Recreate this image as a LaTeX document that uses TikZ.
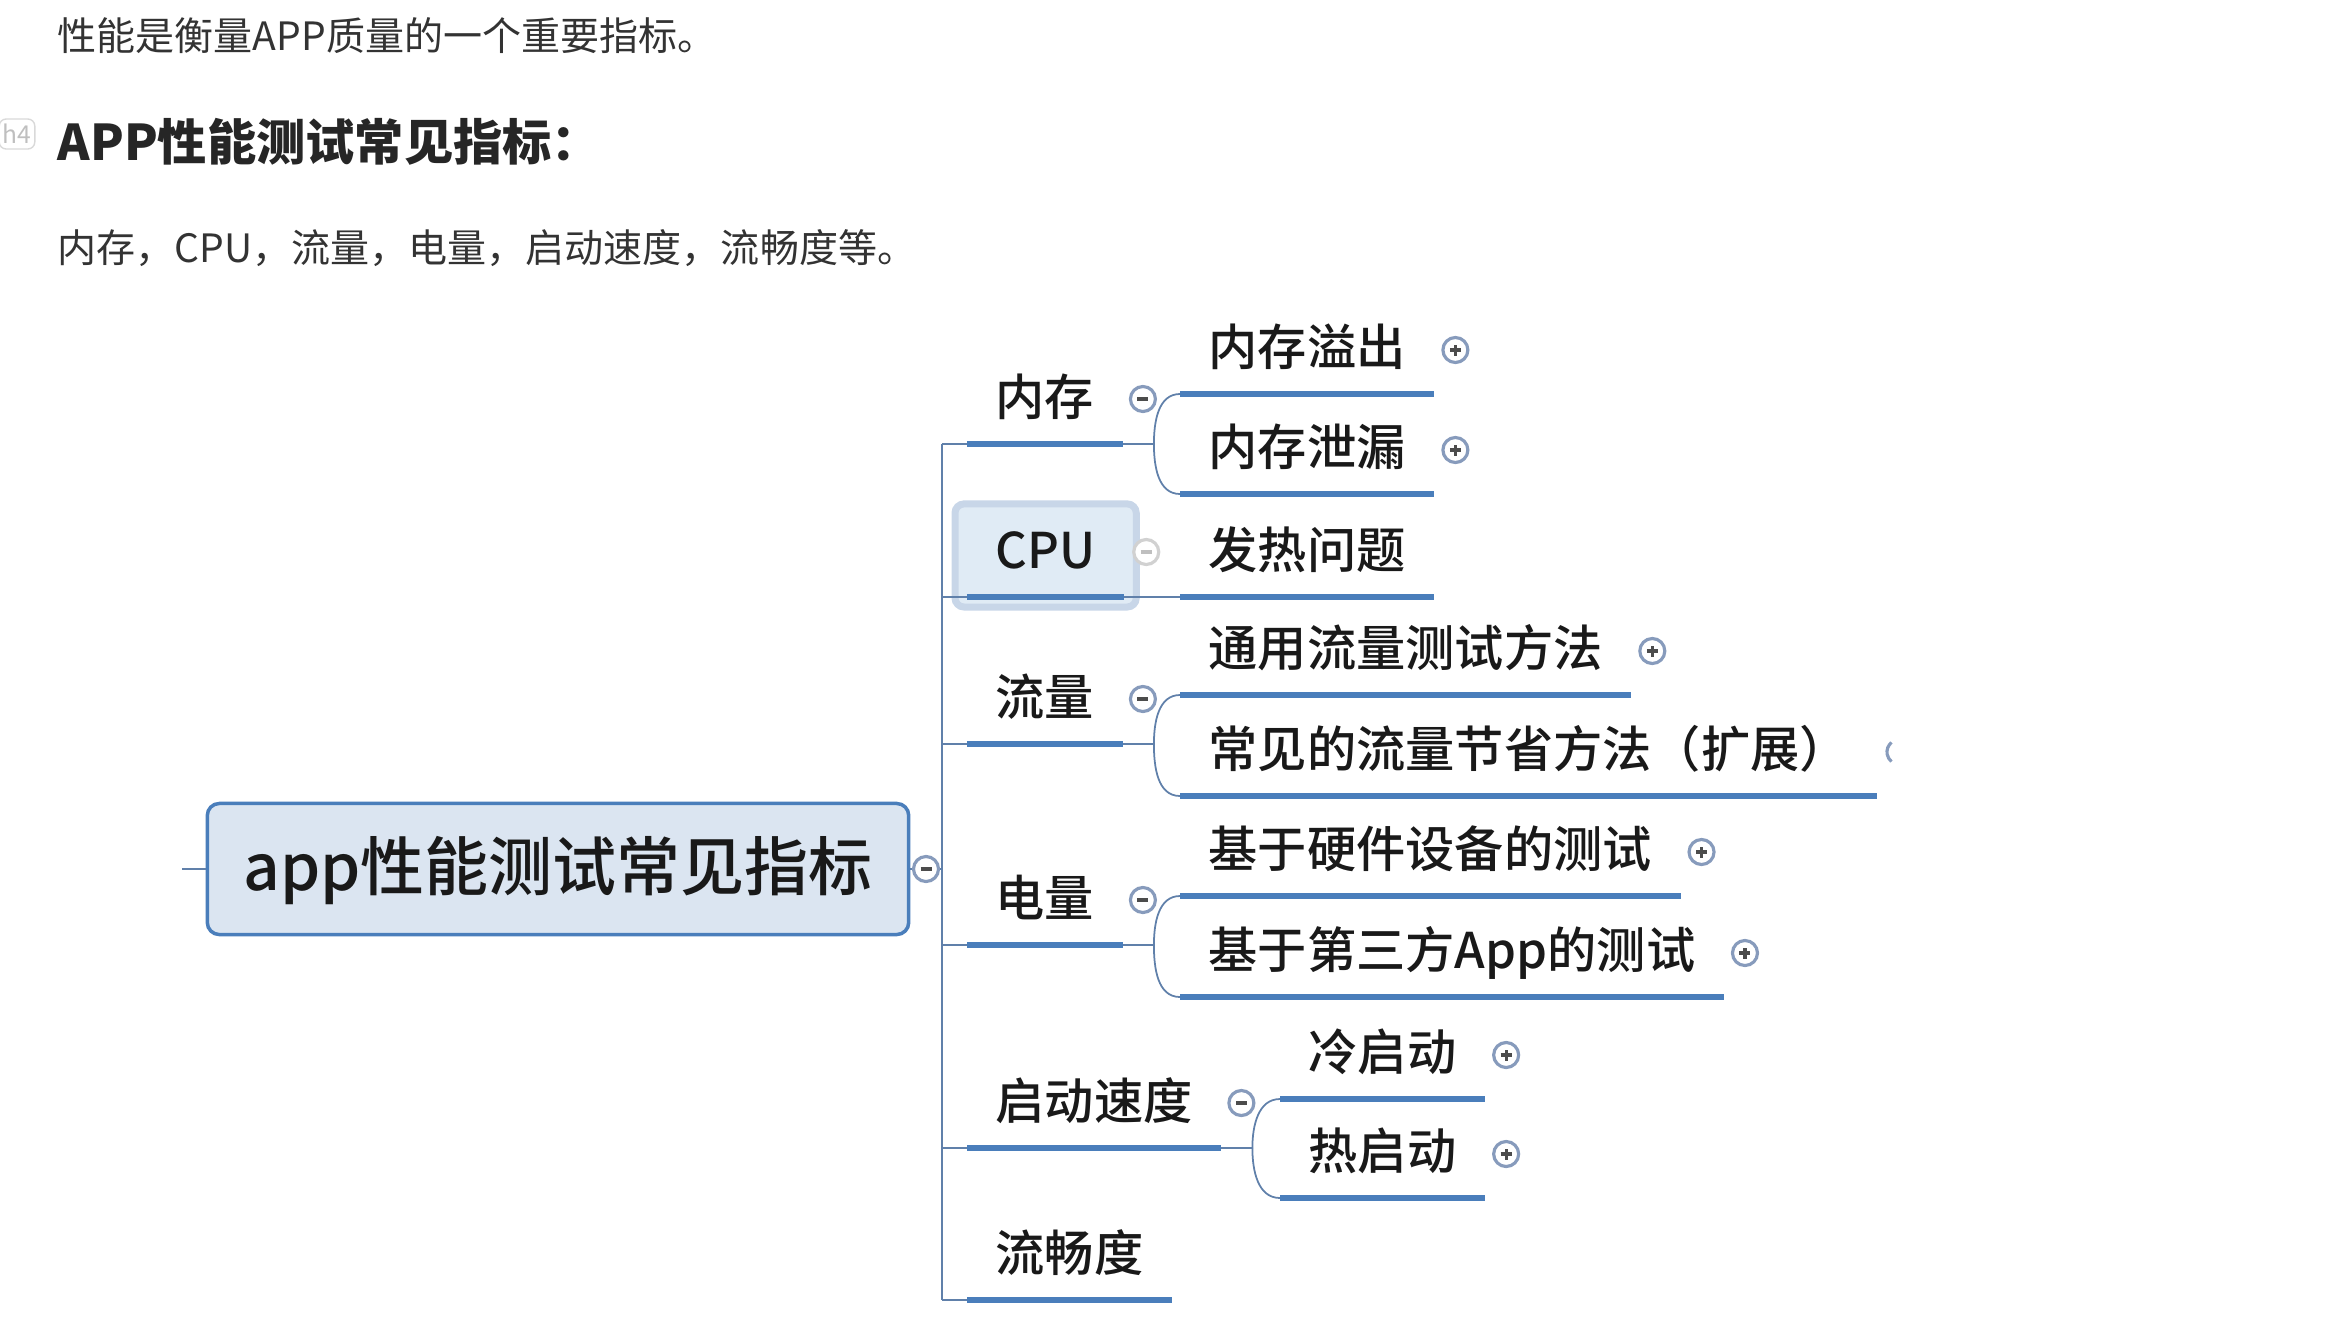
\documentclass[tikz,border=0pt]{standalone}
\usepackage{fontspec}
\setmainfont{Noto Sans CJK SC}
\newfontfamily\mapfont{Noto Sans CJK SC Medium}
\usepackage{tikz}
\usetikzlibrary{calc,fit,backgrounds}
\definecolor{MapBlue}{RGB}{74,126,187}
\definecolor{MapLine}{RGB}{96,128,170}
\definecolor{MapFill}{RGB}{219,229,241}
\definecolor{MapBtn}{RGB}{135,155,188}
\definecolor{MapText}{RGB}{25,25,25}
\definecolor{BodyText}{RGB}{51,51,51}
\definecolor{CpuFill}{RGB}{224,235,245}
\definecolor{CpuEdge}{RGB}{200,214,232}
\tikzset{
  bodytext/.style={anchor=base west, inner sep=0, text=BodyText, font=\fontsize{11.1pt}{13pt}\selectfont},
  rootbox/.style={draw=MapBlue, line width=0.035cm, rounded corners=0.12cm, fill=MapFill, minimum width=7.01cm, minimum height=1.31cm, text=MapText, font=\mapfont\fontsize{18.2pt}{20pt}\selectfont, text height=1.2em, text depth=0em},
  topic/.style={anchor=south west, inner xsep=0.28cm, inner ysep=0.28cm, text height=0.9em, text depth=0pt, text=MapText, font=\mapfont\fontsize{14pt}{16pt}\selectfont},
  maintopic/.style={topic, minimum width=1.54cm},
  cpusel/.style={draw=CpuEdge, line width=0.07cm, fill=CpuFill, rounded corners=0.09cm, inner xsep=0.12cm, inner ysep=0.07cm, yshift=-0.03cm},
  uline/.style={draw=MapBlue, line width=0.055cm},
  conn/.style={draw=MapLine, line width=0.5pt},
  btn/.style={circle, draw=MapBtn, line width=0.9pt, minimum size=0.25cm, inner sep=0, fill=white},
  btnsign/.style={black!70, line width=0.9pt},
  minusbtn/.style={btn, path picture={\draw[btnsign] ([xshift=-0.055cm]path picture bounding box.center) -- ([xshift=0.055cm]path picture bounding box.center);}},
  plusbtn/.style={btn, path picture={\draw[btnsign] ([xshift=-0.055cm]path picture bounding box.center) -- ([xshift=0.055cm]path picture bounding box.center) ([yshift=-0.055cm]path picture bounding box.center) -- ([yshift=0.055cm]path picture bounding box.center);}},
  fadedbtn/.style={draw=black!18, btnsign/.style={black!25, line width=0.9pt}}
}
\begin{document}
\begin{tikzpicture}[x=0.01cm, y=-0.01cm]
\useasboundingbox (0,0) rectangle (2334,1318);
% page text
\node[bodytext] (intro) at (57,51) {性能是衡量APP质量的一个重要指标。};
\node[draw=black!15, rounded corners=2pt, text=black!25, font=\fontsize{7pt}{7pt}\selectfont, minimum width=0.32cm, minimum height=0.3cm, inner sep=1pt] (badge) at (17,134) {h4};
\node[bodytext, text=black!85, font=\bfseries\fontsize{14pt}{16pt}\selectfont] (title) at (57,160) {APP性能测试常见指标：};
\node[bodytext] (list) at (57,262) {内存，CPU，流量，电量，启动速度，流畅度等。};
% mind map
\node[rootbox] (root) at (558,869) {app性能测试常见指标};
\coordinate (stub) at (182,869);
\node[minusbtn] (rootbtn) at (926,869) {};
\coordinate (trunk) at (942,869);
\node[maintopic] (mem) at (967,444) {内存};
\node[maintopic] (cpu) at (967,597) {CPU};
\node[maintopic] (flow) at (967,744) {流量};
\node[maintopic] (power) at (967,945) {电量};
\node[maintopic] (launch) at (967,1148) {启动速度};
\node[maintopic] (smooth) at (967,1300) {流畅度};
\begin{scope}[on background layer]
\node[cpusel, fit=(cpu)] (cpubox) {};
\end{scope}
\node[topic] (oom) at (1180,394) {内存溢出};
\node[topic] (leak) at (1180,494) {内存泄漏};
\node[topic] (heat) at (1180,597) {发热问题};
\node[topic] (common) at (1180,695) {通用流量测试方法};
\node[topic] (save) at (1180,796) {常见的流量节省方法（扩展）};
\node[topic] (hw) at (1180,896) {基于硬件设备的测试};
\node[topic] (third) at (1180,997) {基于第三方App的测试};
\node[topic] (cold) at (1280,1099) {冷启动};
\node[topic] (hot) at (1280,1198) {热启动};
\foreach \n in {mem,cpu,flow,power,launch,smooth,oom,leak,heat,common,save,hw,third,cold,hot}
  \draw[uline] (\n.south west) -- (\n.south east);
\draw[conn] (stub) -- (root.west);
\draw[conn] (root.east) -- (rootbtn.west);
\draw[conn] (rootbtn.east) -- (trunk);
\draw[conn] (trunk |- mem.south) -- (trunk |- smooth.south);
\foreach \n in {mem,cpu,flow,power,launch,smooth}
  \draw[conn] (trunk |- \n.south west) -- (\n.south west);
\draw[conn] (cpu.south east) -- (heat.south west);
\foreach \p/\a/\b in {mem/oom/leak,flow/common/save,power/hw/third,launch/cold/hot}{
  \draw[conn] (\p.south east) -- ++(31,0) coordinate (\p j);
  \draw[conn] (\p j) to[out=90,in=180] (\a.south west);
  \draw[conn] (\p j) to[out=-90,in=180] (\b.south west);
}
\foreach \n in {mem,flow,power,launch}
  \node[minusbtn] (\n btn) at ($(\n.south east)+(20,-45)$) {};
\node[minusbtn, fadedbtn] (cpubtn) at ($(cpu.south east)+(22,-45)$) {};
\foreach \n in {oom,leak,common,hw,third,cold,hot}
  \node[plusbtn] (\n btn) at ($(\n.south east)+(21,-44)$) {};
\coordinate (savebtn) at ($(save.south east)+(22,-44)$);
\draw[draw=MapBtn, line width=0.9pt] (savebtn) ++(130:0.125cm) arc (130:230:0.125cm);
\end{tikzpicture}
\end{document}
